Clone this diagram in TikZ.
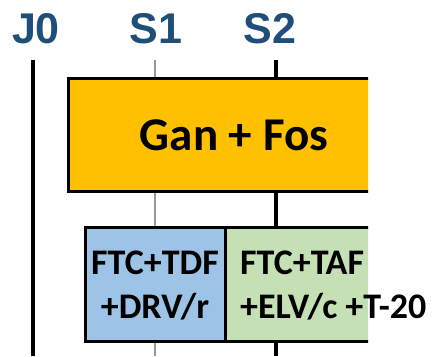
\documentclass[tikz,border=0pt]{standalone}
\usepackage{fontspec}
\newfontfamily\labfont{Liberation Sans}
\newfontfamily\boxfont{Carlito}
\definecolor{labblue}{HTML}{1F4E79}
\definecolor{orangefill}{HTML}{FFC000}
\definecolor{bluefill}{HTML}{9DC3E6}
\definecolor{greenfill}{HTML}{C5E0B4}
\tikzset{
  lab/.style={anchor=base, inner sep=0pt, text=labblue, font=\labfont\bfseries\fontsize{43}{43}\selectfont},
  tline/.style={line width=4pt, black},
  thinline/.style={line width=1.5pt, gray!80},
  boxstyle/.style={draw=black, line width=3pt, anchor=north west, inner sep=0pt},
  bigtext/.style={anchor=base, inner sep=0pt, font=\boxfont\bfseries\fontsize{47}{47}\selectfont},
  boxtext/.style={inner sep=0pt, font=\boxfont\bfseries\fontsize{36}{36}\selectfont}
}
\begin{document}
\begin{tikzpicture}[x=1pt,y=-1pt]
\useasboundingbox (0,0) rectangle (438,356);
% labels
\node[lab] (j0) at (36,43) {J0};
\node[lab] (s1) at (156,43) {S1};
\node[lab] (s2) at (270,43) {S2};
% vertical time lines
\coordinate (j0top) at (33,60);
\coordinate (j0bot) at (33,356);
\coordinate (s1top) at (155,60);
\coordinate (s1bot) at (155,356);
\coordinate (s2top) at (276,60);
\coordinate (s2bot) at (276,356);
\draw[tline] (j0top) -- (j0bot);
\draw[thinline] (s1top) -- (s1bot);
\draw[tline] (s2top) -- (s2bot);
% boxes (clipped on the right)
\begin{scope}
\clip (0,0) rectangle (368,356);
\node[boxstyle, fill=orangefill, minimum width=340pt, minimum height=113pt] (gf) at (67,77) {};
\node[boxstyle, fill=bluefill, minimum width=140pt, minimum height=114pt] (blue) at (84,226) {};
\node[boxstyle, fill=greenfill, minimum width=200pt, minimum height=114pt] (green) at (224,226) {};
\end{scope}
% texts
\node[bigtext] (gftext) at (234,150) {Gan + Fos};
\node[boxtext, anchor=base] (b1) at (155,274) {FTC+TDF};
\node[boxtext, anchor=base] (b2) at (155,318) {+DRV/r};
\node[boxtext, anchor=base west] (g1) at (240,274) {FTC+TAF};
\node[boxtext, anchor=base west] (g2) at (240,318) {+ELV/c +T-20};
\end{tikzpicture}
\end{document}
